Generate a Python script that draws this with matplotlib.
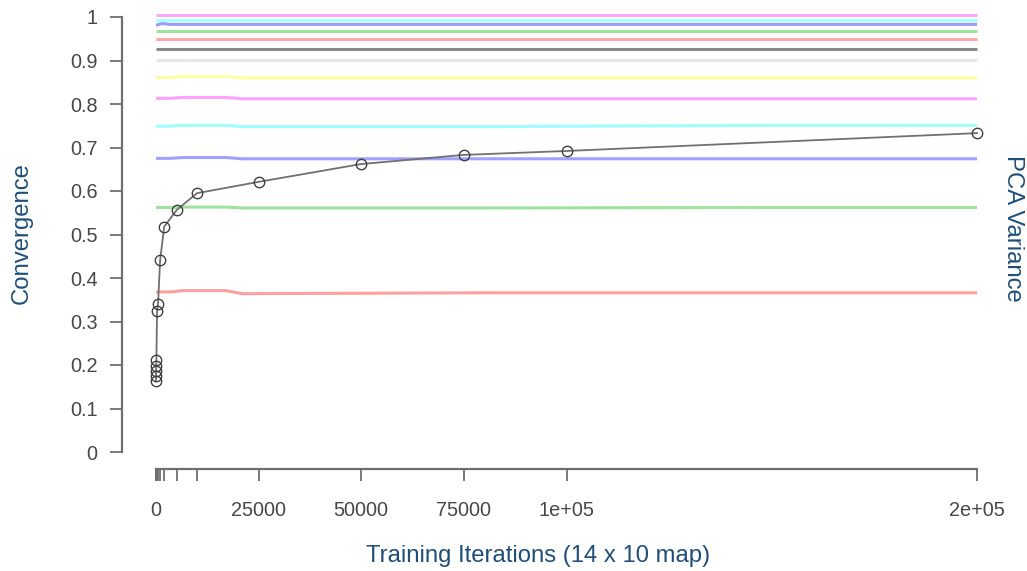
import matplotlib
matplotlib.use("Agg")
import matplotlib.pyplot as plt

plt.rcParams['font.family'] = ['Liberation Sans', 'DejaVu Sans']

# Convergence series
iterations = [0, 10, 25, 50, 100, 250, 500, 1000, 2000, 5000, 10000, 25000, 50000, 75000, 100000, 200000]
convergence = [0.1625, 0.175, 0.187, 0.198, 0.211, 0.324, 0.340, 0.441, 0.518, 0.556, 0.595, 0.621, 0.662, 0.683, 0.692, 0.733]

# PCA variance lines (cumulative), sampled at these iterations
pca_iters = [0, 1500, 3500, 6500, 17000, 21000, 80000, 150000, 200000]
pca_red     = [0.368, 0.368, 0.368, 0.371, 0.371, 0.364, 0.366, 0.366, 0.366]
pca_green   = [0.562, 0.562, 0.562, 0.563, 0.563, 0.561, 0.561, 0.562, 0.562]
pca_blue    = [0.675, 0.675, 0.675, 0.677, 0.677, 0.674, 0.674, 0.674, 0.674]
pca_cyan    = [0.749, 0.749, 0.749, 0.751, 0.751, 0.748, 0.748, 0.751, 0.751]
pca_magenta = [0.813, 0.813, 0.813, 0.815, 0.815, 0.812, 0.812, 0.812, 0.812]
pca_yellow  = [0.861, 0.861, 0.861, 0.863, 0.863, 0.860, 0.860, 0.860, 0.860]
pca_lgray   = [0.901, 0.901, 0.901, 0.901, 0.901, 0.901, 0.901, 0.901, 0.901]
pca_dgray   = [0.927, 0.927, 0.927, 0.927, 0.927, 0.927, 0.927, 0.927, 0.927]
pca_red2    = [0.950, 0.950, 0.950, 0.950, 0.950, 0.950, 0.950, 0.950, 0.950]
pca_green2  = [0.968, 0.968, 0.968, 0.968, 0.968, 0.968, 0.968, 0.968, 0.968]
pca_blue2   = [0.981, 0.985, 0.983, 0.983, 0.983, 0.983, 0.983, 0.983, 0.983]
pca_cyan2   = [0.994, 0.994, 0.994, 0.994, 0.994, 0.994, 0.994, 0.994, 0.994]
pca_magenta2= [1.004, 1.004, 1.004, 1.004, 1.004, 1.004, 1.004, 1.004, 1.004]

pca_series = [pca_red, pca_green, pca_blue, pca_cyan, pca_magenta, pca_yellow,
              pca_lgray, pca_dgray, pca_red2, pca_green2, pca_blue2, pca_cyan2, pca_magenta2]
pca_colors = ['#ff9f9f', '#9ee29e', '#a0a0ff', '#9ffcff', '#ffa0ff', '#ffff9f',
              '#e6e6e6', '#8a8a8a', '#ffa6a6', '#9ee29e', '#9a9aff', '#a6feff', '#ffa6ff']

xtick_labels = {0: '0', 25000: '25000', 50000: '50000', 75000: '75000', 100000: '1e+05', 200000: '2e+05'}

W, H = 1027, 571
fig = plt.figure(figsize=(W / 100, H / 100), dpi=100)
ax = fig.add_axes([156 / W, (H - 452) / H, (977 - 156) / W, (452 - 17) / H])
ax.set_xlim(0, 200000)
ax.set_ylim(0, 1)

for vals, col in zip(pca_series, pca_colors):
    ax.plot(pca_iters, vals, color=col, lw=2.2, clip_on=False, solid_capstyle='butt')

ax.plot(iterations, convergence, color='#707070', lw=1.3, marker='o', ms=7.5,
        mfc='none', mec='#404040', mew=1.0, clip_on=False, zorder=5)

axis_col = '#6e6e6e'
label_col = '#474747'
title_col = '#1f4e79'

for s in ['top', 'right']:
    ax.spines[s].set_visible(False)
ax.spines['left'].set_position(('outward', 24.5))
ax.spines['bottom'].set_position(('outward', 12.2))
ax.spines['left'].set_bounds(0, 1)
ax.spines['bottom'].set_bounds(0, 200000)
for s in ['left', 'bottom']:
    ax.spines[s].set_color(axis_col)
    ax.spines[s].set_linewidth(1.6)

ax.set_yticks([i / 10 for i in range(11)])
ax.set_yticklabels(['0', '0.1', '0.2', '0.3', '0.4', '0.5', '0.6', '0.7', '0.8', '0.9', '1'])
ax.set_xticks(iterations)
ax.set_xticklabels([xtick_labels.get(v, '') for v in iterations])
ax.tick_params(axis='both', colors=axis_col, labelcolor=label_col, labelsize=14.3,
               length=8.6, width=1.3)
ax.tick_params(axis='y', pad=9)
ax.tick_params(axis='x', pad=14.5)

fig.text(22 / W, 1 - 233 / H, 'Convergence', rotation=90, color=title_col, fontsize=17.2,
         ha='center', va='center')
fig.text(1013 / W, 1 - 228 / H, 'PCA Variance', rotation=-90, color=title_col, fontsize=17.2,
         ha='center', va='center')
fig.text(538 / W, 1 - 556 / H, 'Training Iterations (14 x 10 map)', color=title_col,
         fontsize=17.2, ha='center', va='center')

fig.savefig('out.png', dpi=100)
